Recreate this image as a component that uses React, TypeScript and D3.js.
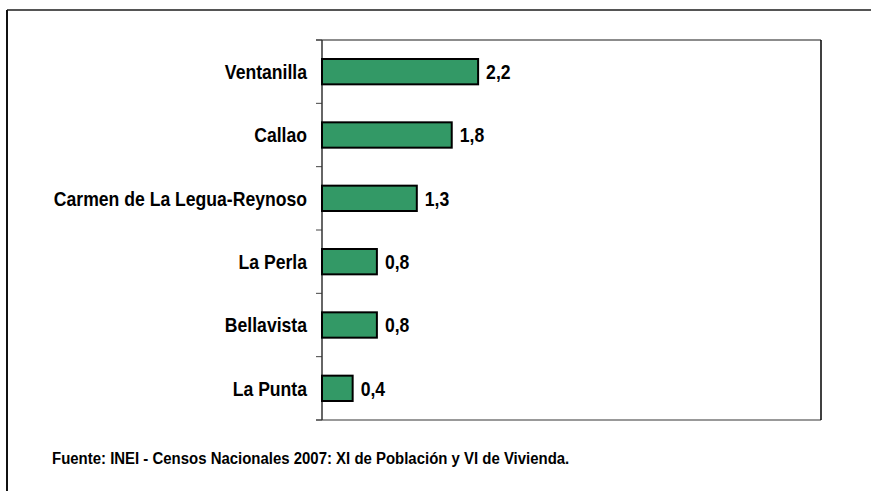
import React from "react";
import * as d3 from "d3";

const categories = ["Ventanilla", "Callao", "Carmen de La Legua-Reynoso", "La Perla", "Bellavista", "La Punta"];
const values = [2.19, 1.82, 1.33, 0.77, 0.77, 0.43];
const xMax = 7;
const footnote = "Fuente: INEI - Censos Nacionales 2007: XI de Población y VI de Vivienda.";

const W = 871, H = 491;
const plot = { left: 322, right: 821, top: 40, bottom: 420 };
const FONT = "'Liberation Sans', Arial, sans-serif";
const SX = 0.88;

export default function App() {
  const x = d3.scaleLinear().domain([0, xMax]).range([plot.left, plot.right]);
  const y = d3.scaleBand().domain(categories).range([plot.top, plot.bottom]).paddingInner(0.6).paddingOuter(0.3);
  const band = (plot.bottom - plot.top) / categories.length;
  const ticks = d3.range(categories.length + 1).map((i) => plot.top + i * band);
  const fmt = (v: number) => d3.format(".1f")(v).replace(".", ",");
  return (
    <svg width={W} height={H} style={{ position: "absolute", left: 0, top: 0, background: "#fff" }}>
      <rect x={0} y={0} width={W} height={H} fill="#fff" />
      <line x1={7} x2={W} y1={10} y2={10} stroke="#555" strokeWidth={2} />
      <line x1={7} x2={7} y1={10} y2={H} stroke="#111" strokeWidth={2} />
      <line x1={plot.left - 6} x2={plot.right} y1={plot.top} y2={plot.top} stroke="#666" strokeWidth={1.5} />
      <line x1={plot.left - 6} x2={plot.right} y1={plot.bottom} y2={plot.bottom} stroke="#777" strokeWidth={1.5} />
      <line x1={plot.right} x2={plot.right} y1={plot.top} y2={plot.bottom} stroke="#000" strokeWidth={1.5} />
      {ticks.map((t, i) => (
        <line key={i} x1={plot.left - 6} x2={plot.left} y1={t} y2={t} stroke="#444" strokeWidth={1} />
      ))}
      <line x1={plot.left} x2={plot.left} y1={plot.top} y2={plot.bottom} stroke="#333" strokeWidth={1.5} />
      {categories.map((c, i) => {
        const yy = y(c)!;
        const bh = y.bandwidth();
        const cy = yy + bh / 2;
        return (
          <g key={c}>
            <rect x={x(0)} y={yy} width={x(values[i]) - x(0)} height={bh} fill="#339966" stroke="#000" strokeWidth={2} />
            <g transform={`translate(${x(values[i]) + 8},${cy}) scale(${SX},1)`}>
              <text x={0} y={0} dy="0.36em" fontFamily={FONT} fontWeight="bold" fontSize={20} fill="#000">
                {fmt(values[i])}
              </text>
            </g>
            <g transform={`translate(307,${cy}) scale(${SX},1)`}>
              <text x={0} y={0} dy="0.36em" textAnchor="end" fontFamily={FONT} fontWeight="bold" fontSize={20} fill="#000">
                {c}
              </text>
            </g>
          </g>
        );
      })}
      <g transform={`translate(52,464) scale(${SX},1)`}>
        <text x={0} y={0} fontFamily={FONT} fontWeight="bold" fontSize={17} fill="#000">
          {footnote}
        </text>
      </g>
    </svg>
  );
}
